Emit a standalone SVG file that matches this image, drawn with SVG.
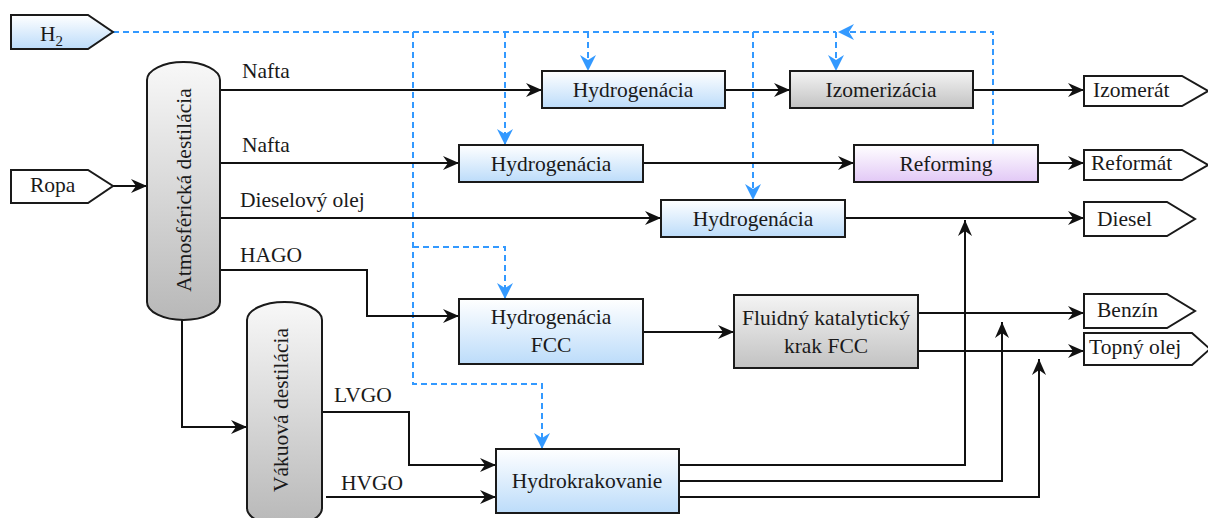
<svg xmlns="http://www.w3.org/2000/svg" width="1208" height="518" viewBox="0 0 1208 518" font-family="'Liberation Serif', Tinos, 'Times New Roman', 'DejaVu Serif', 'Noto Serif', serif">
<style>
text{font-family:'Liberation Serif',Tinos,'Times New Roman','DejaVu Serif','Noto Serif',serif;font-size:21.5px;fill:#1a1a1a}
.c{text-anchor:middle}
.box{stroke:#1a1a1a;stroke-width:2}
.ln{fill:none;stroke:#111;stroke-width:2;marker-end:url(#ab)}
.h2{fill:none;stroke:#3399ff;stroke-width:2;stroke-dasharray:6 4}
.h2a{fill:none;stroke:#3399ff;stroke-width:2;stroke-dasharray:6 4;marker-end:url(#ah)}
.out{fill:#fff;stroke:#1a1a1a;stroke-width:2}
</style>
<defs>
<linearGradient id="gb" x1="0" y1="0" x2="0" y2="1"><stop offset="0" stop-color="#ffffff"/><stop offset="1" stop-color="#bcdcfa"/></linearGradient>
<linearGradient id="gg" x1="0" y1="0" x2="0" y2="1"><stop offset="0" stop-color="#f4f4f4"/><stop offset="1" stop-color="#c2c2c2"/></linearGradient>
<linearGradient id="gc" x1="0" y1="0" x2="0" y2="1"><stop offset="0" stop-color="#f8f8f8"/><stop offset="1" stop-color="#b8b8b8"/></linearGradient>
<linearGradient id="gp" x1="0" y1="0" x2="0" y2="1"><stop offset="0" stop-color="#ffffff"/><stop offset="1" stop-color="#e2c8f6"/></linearGradient>
<marker id="ab" markerUnits="userSpaceOnUse" markerWidth="16" markerHeight="14" refX="16" refY="7" orient="auto"><path d="M0,0 L16,7 L0,14 L5,7 z" fill="#111"/></marker>
<marker id="ah" markerUnits="userSpaceOnUse" markerWidth="16" markerHeight="16" refX="16" refY="8" orient="auto"><path d="M0,0 L16,8 L0,16 L5,8 z" fill="#3399ff"/></marker>
</defs>

<g id="connectors">
<path class="h2" d="M113,32 H836"/>
<path class="h2a" d="M993,145 V32 H838"/>
<path class="h2a" d="M588,32 V71"/>
<path class="h2a" d="M836,32 V71"/>
<path class="h2a" d="M505,32 V145"/>
<path class="h2a" d="M753,32 V200"/>
<path class="h2a" d="M413,32 V384 H542 V449"/>
<path class="h2a" d="M413,247 H505 V299"/>
<path class="ln" d="M113,186 H147"/>
<path class="ln" d="M219,90 H542"/>
<path class="ln" d="M220,163 H459"/>
<path class="ln" d="M220,218 H661"/>
<path class="ln" d="M220,270 H367 V316 H459"/>
<path class="ln" d="M182,320 V427 H247"/>
<path class="ln" d="M322,412 H409 V465 H496"/>
<path class="ln" d="M326,497 H496"/>
<path class="ln" d="M725,90 H790"/>
<path class="ln" d="M973,90 H1084"/>
<path class="ln" d="M643,163 H854"/>
<path class="ln" d="M1038,163 H1084"/>
<path class="ln" d="M845,218 H1084"/>
<path class="ln" d="M643,332 H734"/>
<path class="ln" d="M918,313 H1084"/>
<path class="ln" d="M918,351 H1084"/>
<path class="ln" d="M679,465 H965 V220"/>
<path class="ln" d="M679,481 H1002 V322"/>
<path class="ln" d="M679,497 H1039 V359"/>
<text x="242" y="78">Nafta</text>
<text x="242" y="152">Nafta</text>
<text x="240" y="207">Dieselový olej</text>
<text x="240" y="262">HAGO</text>
<text x="334" y="402">LVGO</text>
<text x="341" y="490">HVGO</text>
</g>

<g id="h2">
<path d="M11,15 H88 L113,32 L88,49 H11 Z" fill="url(#gb)" class="box"/>
<text x="40" y="41">H<tspan font-size="15" dy="5">2</tspan></text>
</g>
<g id="ropa">
<path d="M11,170 H88 L113,186 L88,203 H11 Z" class="out"/>
<text x="30" y="192">Ropa</text>
</g>

<g id="atm">
<path d="M147,80 A36.5,18 0 0 1 220,80 V302 A36.5,18 0 0 1 147,302 Z" fill="url(#gc)" class="box"/>
<text class="c" transform="translate(191,190) rotate(-90)">Atmosférická destilácia</text>
</g>
<g id="vak">
<path d="M247,320 A37.5,18 0 0 1 322,320 V508 A37.5,18 0 0 1 247,508 Z" fill="url(#gc)" class="box"/>
<text class="c" transform="translate(288,410) rotate(-90)">Vákuová destilácia</text>
</g>

<g id="hyd1"><rect x="542" y="71" width="183" height="37" fill="url(#gb)" class="box"/><text class="c" x="633" y="97">Hydrogenácia</text></g>
<g id="izo"><rect x="790" y="71" width="183" height="37" fill="url(#gg)" class="box"/><text class="c" x="881" y="97">Izomerizácia</text></g>
<g id="hyd2"><rect x="459" y="145" width="184" height="37" fill="url(#gb)" class="box"/><text class="c" x="551" y="171">Hydrogenácia</text></g>
<g id="ref"><rect x="854" y="145" width="184" height="37" fill="url(#gp)" class="box"/><text class="c" x="946" y="171">Reforming</text></g>
<g id="hyd3"><rect x="661" y="200" width="184" height="37" fill="url(#gb)" class="box"/><text class="c" x="753" y="226">Hydrogenácia</text></g>
<g id="hydfcc"><rect x="459" y="299" width="184" height="65" fill="url(#gb)" class="box"/><text class="c" x="551" y="324">Hydrogenácia</text><text class="c" x="551" y="352">FCC</text></g>
<g id="fcc"><rect x="734" y="295" width="184" height="73" fill="url(#gg)" class="box"/><text class="c" x="826" y="325">Fluidný katalytický</text><text class="c" x="826" y="353">krak FCC</text></g>
<g id="hk"><rect x="496" y="449" width="183" height="64" fill="url(#gb)" class="box"/><text class="c" x="587" y="488">Hydrokrakovanie</text></g>

<g id="izomerat"><path d="M1084,76 H1182 L1208,91 L1182,106 H1084 Z" class="out"/><text x="1093" y="97">Izomerát</text></g>
<g id="reformat"><path d="M1084,150 H1182 L1208,165 L1182,180 H1084 Z" class="out"/><text x="1091" y="170">Reformát</text></g>
<g id="diesel"><path d="M1084,202 H1167 L1195,219 L1167,236 H1084 Z" class="out"/><text x="1097" y="226">Diesel</text></g>
<g id="benzin"><path d="M1084,294 H1167 L1195,311 L1167,328 H1084 Z" class="out"/><text x="1097" y="317">Benzín</text></g>
<g id="topny"><path d="M1084,333 H1192 L1210,349 L1192,365 H1084 Z" class="out"/><text x="1089" y="354">Topný olej</text></g>
</svg>
